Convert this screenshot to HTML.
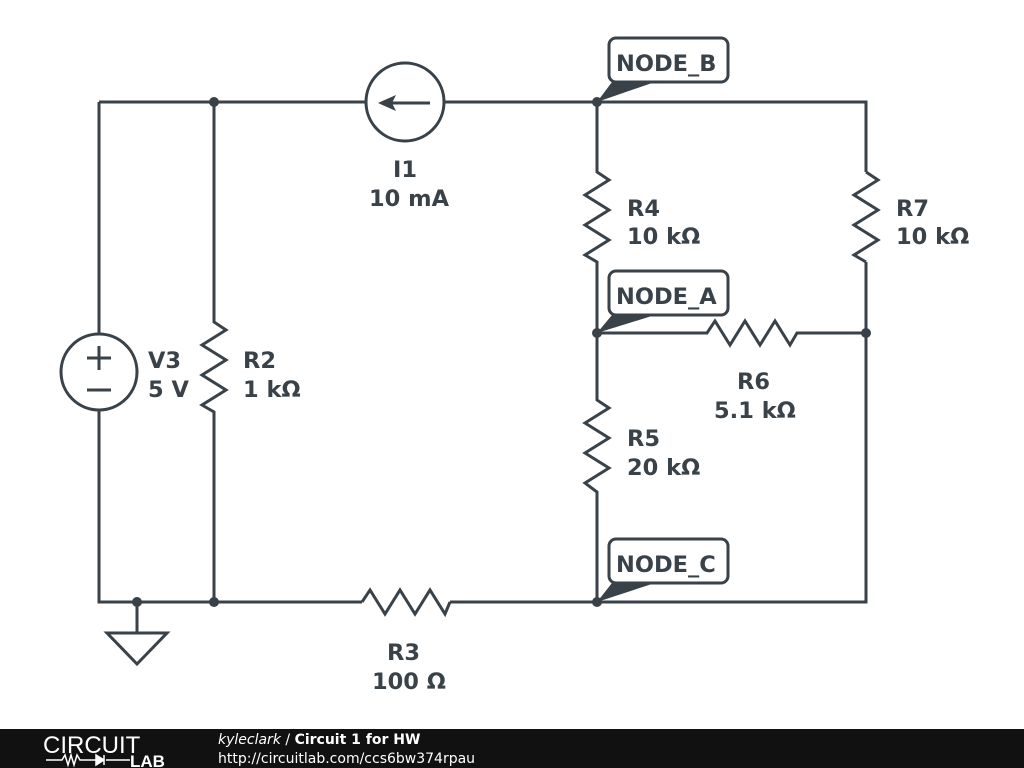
<!DOCTYPE html>
<html><head><style>
body{margin:0;background:#fff;}
svg{display:block}
text{font-family:"DejaVu Sans","Liberation Sans",sans-serif;font-weight:bold;fill:#3a4249;font-size:22.5px}
</style></head><body>
<svg width="1024" height="768" viewBox="0 0 1024 768" xmlns="http://www.w3.org/2000/svg">
<g stroke="#3a4249" stroke-width="3" fill="none" stroke-linejoin="miter">
<path d="M99 102 H366 M444 102 H866 V172"/>
<path d="M99 102 V334 M99 410 V602 H362 M450 602 H866 V262"/>
<path d="M214 102 V322 L226 330 L202 345 L226 360 L202 375 L226 390 L202 405 L214 412 V602"/>
<path d="M597 102 V172 L609 180 L585 195 L609 210 L585 225 L609 240 L585 255 L597 262 V400 L609 408 L585 423 L609 438 L585 453 L609 468 L585 483 L597 492 V602"/>
<path d="M866 172 L878 180 L854 195 L878 210 L854 225 L878 240 L854 255 L866 262"/>
<path d="M597 333 H707 L715 321 L730 345 L745 321 L760 345 L775 321 L790 345 L797 333 H866"/>
<path d="M362 602 L370 590 L385 614 L400 590 L415 614 L430 590 L445 614 L450 602"/>
<circle cx="99" cy="372" r="38"/>
<path d="M87 358 H111 M99 346 V370 M87 390 H111"/>
<circle cx="405" cy="102" r="39"/>
<path d="M392 103 H430"/>
<path d="M137 602 V632 M107 633 H167 L137 664 Z"/>
<rect x="609" y="38" width="119" height="44" rx="7" fill="#fff"/>
<rect x="609" y="271" width="119" height="44" rx="7" fill="#fff"/>
<rect x="609" y="539" width="119" height="44" rx="7" fill="#fff"/>
</g>
<g fill="#3a4249">
<path d="M378 103 L396 95 L392 103 L396 111 Z"/>
<circle cx="214" cy="102" r="5"/><circle cx="597" cy="102" r="5"/>
<circle cx="214" cy="602" r="5"/><circle cx="137" cy="602" r="5"/>
<circle cx="597" cy="602" r="5"/><circle cx="597" cy="333" r="5"/><circle cx="866" cy="333" r="5"/>
<path d="M597 102 L612 82 L655 82 Z"/>
<path d="M597 333 L612 315 L655 315 Z"/>
<path d="M597 602 L612 583 L655 583 Z"/>
</g>
<text x="616" y="71">NODE_B</text>
<text x="616" y="304">NODE_A</text>
<text x="616" y="572">NODE_C</text>
<text x="393" y="177">I1</text>
<text x="369" y="206">10 mA</text>
<text x="627" y="216">R4</text>
<text x="627" y="244">10 kΩ</text>
<text x="896" y="216">R7</text>
<text x="896" y="244">10 kΩ</text>
<text x="148" y="368">V3</text>
<text x="148" y="397">5 V</text>
<text x="243" y="368">R2</text>
<text x="243" y="397">1 kΩ</text>
<text x="737" y="389">R6</text>
<text x="714" y="418">5.1 kΩ</text>
<text x="627" y="446">R5</text>
<text x="627" y="475">20 kΩ</text>
<text x="387" y="660">R3</text>
<text x="372" y="689">100 Ω</text>
<rect x="0" y="729" width="1024" height="39" fill="#111"/>
<text x="43" y="753" style="font-weight:normal;fill:#fff;font-size:24px;font-family:'Liberation Sans',sans-serif">CIRCUIT</text>
<path d="M46 760 H62 L65 755 L68 765 L71 755 L74 765 L77 755 L80 760 H96 M106 760 H130" stroke="#fff" stroke-width="1.5" fill="none"/>
<path d="M96 755 L104 760 L96 765 Z M104 755 V765" fill="#fff" stroke="#fff" stroke-width="1.5"/>
<text x="130" y="767" style="fill:#fff;font-size:17px;font-family:'Liberation Sans',sans-serif">LAB</text>
<text x="218" y="744" style="fill:#fff;font-size:14px"><tspan style="font-style:italic;font-weight:normal">kyleclark</tspan><tspan style="font-weight:normal"> / </tspan>Circuit 1 for HW</text>
<text x="218" y="763" style="fill:#fff;font-size:14px;font-weight:normal">http://circuitlab.com/ccs6bw374rpau</text>
</svg>
</body></html>
